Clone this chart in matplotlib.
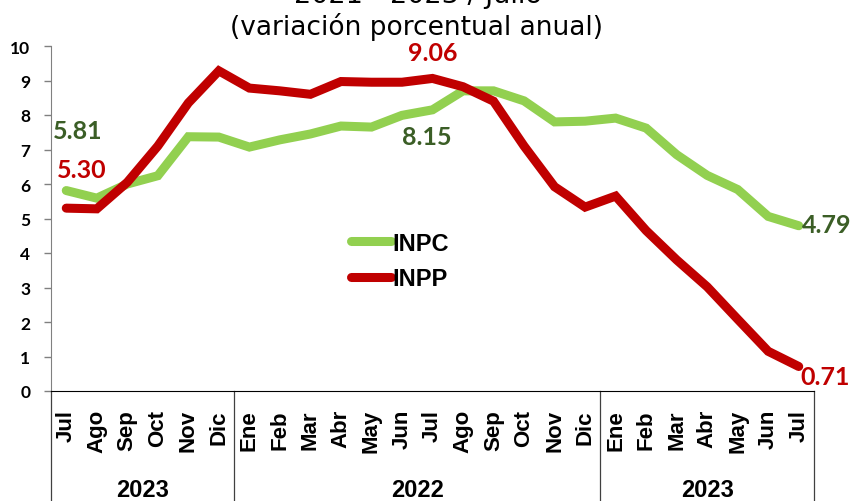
import matplotlib.pyplot as plt
import matplotlib.transforms as mtransforms

months = ["Jul", "Ago", "Sep", "Oct", "Nov", "Dic",
          "Ene", "Feb", "Mar", "Abr", "May", "Jun", "Jul", "Ago", "Sep", "Oct", "Nov", "Dic",
          "Ene", "Feb", "Mar", "Abr", "May", "Jun", "Jul"]
years = ["2023", "2022", "2023"]
year_sizes = [6, 12, 7]

inpc = [5.81, 5.59, 6.00, 6.24, 7.37, 7.36,
        7.07, 7.28, 7.45, 7.68, 7.65, 7.99, 8.15, 8.70, 8.70, 8.41, 7.80, 7.82,
        7.91, 7.62, 6.85, 6.25, 5.84, 5.06, 4.79]
inpp = [5.30, 5.28, 6.05, 7.10, 8.35, 9.28,
        8.78, 8.70, 8.60, 8.97, 8.95, 8.95, 9.06, 8.82, 8.40, 7.10, 5.92, 5.33,
        5.65, 4.65, 3.80, 3.02, 2.08, 1.15, 0.71]

green = "#92D050"
red = "#C00000"
dark_green = "#3B5E26"

fig = plt.figure(figsize=(8.54, 5.02), dpi=100)
ax = fig.add_axes([51 / 854, 110 / 502, 763 / 854, 345 / 502])

x = list(range(len(months)))
ax.plot(x, inpc, color=green, lw=6.5, solid_capstyle="round", solid_joinstyle="miter", label="INPC")
ax.plot(x, inpp, color=red, lw=6.5, solid_capstyle="round", solid_joinstyle="miter", label="INPP")

ax.set_xlim(-0.5, len(months) - 0.5)
ax.set_ylim(0, 10)
ax.set_yticks(range(0, 11))
ax.set_yticklabels([str(v) for v in range(0, 11)], fontfamily="Lato",
                   fontweight="bold", fontsize=12.5)
ax.tick_params(axis="y", length=5, color="#808080", width=1, pad=10)
ax.set_xticks(x)
ax.set_xticklabels(months, rotation=90, fontfamily="Liberation Sans",
                   fontweight="bold", fontsize=16, va="top")
ax.tick_params(axis="x", length=0, pad=13)

for s in ["top", "right"]:
    ax.spines[s].set_visible(False)
ax.spines["left"].set_color("#808080")
ax.spines["bottom"].set_color("black")

# group separators below the axis
trans = mtransforms.blended_transform_factory(ax.transData, ax.transAxes)
bounds = [-0.5]
for n in year_sizes:
    bounds.append(bounds[-1] + n)
for b in bounds:
    ax.plot([b, b], [0, -0.33], color="#404040", lw=0.9, transform=trans, clip_on=False)
for i, yr in enumerate(years):
    ax.text((bounds[i] + bounds[i + 1]) / 2, -0.285, yr, transform=trans, ha="center",
            va="center", fontfamily="Liberation Sans", fontweight="bold", fontsize=17)

# data labels
lab = dict(fontfamily="Lato", fontweight="bold", fontsize=18)
ax.annotate(f"{inpc[0]:.2f}", (0, inpc[0]), xytext=(8.6, 43), textcoords="offset points",
            ha="center", va="center", color=dark_green, **lab)
ax.annotate(f"{inpp[0]:.2f}", (0, inpp[0]), xytext=(11.5, 28), textcoords="offset points",
            ha="center", va="center", color=red, **lab)
ax.annotate(f"{inpp[12]:.2f}", (12, inpp[12]), xytext=(0, 19), textcoords="offset points",
            ha="center", va="center", color=red, annotation_clip=False, **lab)
ax.annotate(f"{inpc[12]:.2f}", (12, inpc[12]), xytext=(-4, -19), textcoords="offset points",
            ha="center", va="center", color=dark_green, **lab)
ax.annotate(f"{inpc[24]:.2f}", (24, inpc[24]), xytext=(2, 1), textcoords="offset points",
            ha="left", va="center", color=dark_green, **lab)
ax.annotate(f"{inpp[24]:.2f}", (24, inpp[24]), xytext=(1, -7), textcoords="offset points",
            ha="left", va="center", color=red, **lab)

leg = ax.legend(loc="center", bbox_to_anchor=(0.457, 0.377), frameon=False,
                prop={"family": "Liberation Sans", "weight": "bold", "size": 17},
                handlelength=1.7, handletextpad=0.05, labelspacing=0.53)

fig.text(418 / 854, 1 - 3 / 502, "2021 - 2023 / Julio", ha="center", va="baseline",
         fontfamily="DejaVu Sans", fontsize=19.5)
fig.text(417 / 854, 1 - 27 / 502, "(variación porcentual anual)", ha="center", va="center",
         fontfamily="DejaVu Sans", fontsize=19)

fig.savefig("out.png", dpi=100)
